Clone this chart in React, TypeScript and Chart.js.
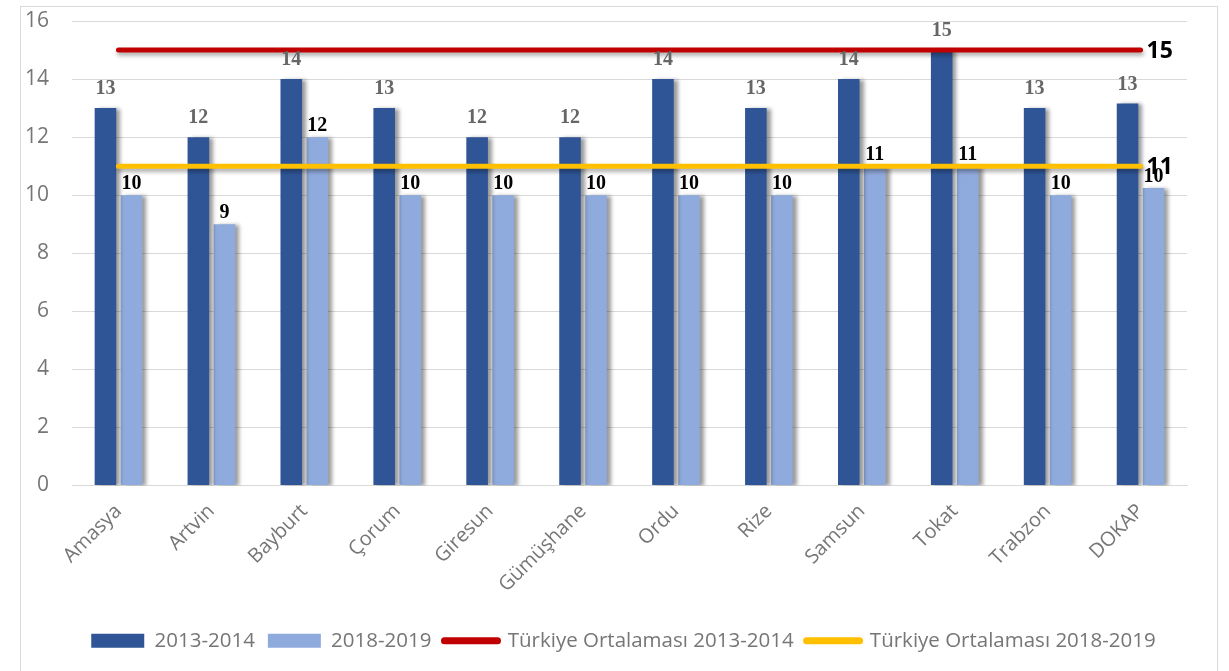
import React, { useEffect, useRef } from "react";
import { Chart, registerables } from "chart.js";

Chart.register(...registerables);

const categories = ["Amasya", "Artvin", "Bayburt", "Çorum", "Giresun", "Gümüşhane", "Ordu", "Rize", "Samsun", "Tokat", "Trabzon", "DOKAP"];
const values2013 = [13, 12, 14, 13, 12, 12, 14, 13, 14, 15, 13, 13.16];
const values2018 = [10, 9, 12, 10, 10, 10, 10, 10, 11, 11, 10, 10.25];
const turkiye2013 = [15, 15, 15, 15, 15, 15, 15, 15, 15, 15, 15, 15];
const turkiye2018 = [11, 11, 11, 11, 11, 11, 11, 11, 11, 11, 11, 11];
const seriesLabels = ["2013-2014", "2018-2019", "Türkiye Ortalaması 2013-2014", "Türkiye Ortalaması 2018-2019"];

const SANS = "'Open Sans', 'Liberation Sans', sans-serif";
const GRAY = "#767676";

const shadowPlugin = {
  id: "shadowPlugin",
  beforeDatasetDraw(chart: any, args: any) {
    const ctx = chart.ctx;
    ctx.save();
    const type = chart.data.datasets[args.index].type;
    if (type === "line") {
      ctx.shadowColor = "rgba(0,0,0,0.35)";
      ctx.shadowBlur = 4;
      ctx.shadowOffsetX = 1;
      ctx.shadowOffsetY = 3;
    } else {
      ctx.shadowColor = "rgba(0,0,0,0.4)";
      ctx.shadowBlur = 4;
      ctx.shadowOffsetX = 4;
      ctx.shadowOffsetY = 1;
    }
  },
  afterDatasetDraw(chart: any) {
    chart.ctx.restore();
  },
};

// centre the legend on the whole card rather than on the padded area
const legendShiftPlugin = {
  id: "legendShiftPlugin",
  afterLayout(chart: any) {
    const l = chart.legend;
    if (l) {
      l.left += 20;
      l.right += 20;
    }
  },
};

const labelPlugin = {
  id: "labelPlugin",
  afterDatasetsDraw(chart: any) {
    const ctx = chart.ctx;
    ctx.save();
    chart.data.datasets.forEach((ds: any, di: number) => {
      const meta = chart.getDatasetMeta(di);
      if (ds.type === "bar") {
        ctx.font = "bold 20px 'Liberation Serif', 'Times New Roman', serif";
        ctx.fillStyle = di === 0 ? "#666666" : "#000000";
        ctx.textAlign = "center";
        ctx.textBaseline = "middle";
        meta.data.forEach((el: any, i: number) => {
          const v = ds.data[i];
          const off = di === 0 ? 19 : 11;
          ctx.fillText(String(Math.round(v)), el.x, el.y - off);
        });
      } else {
        const last = meta.data[meta.data.length - 1];
        ctx.font = "bold 23px " + SANS;
        ctx.fillStyle = "#000000";
        ctx.textAlign = "left";
        ctx.textBaseline = "middle";
        ctx.fillText(String(ds.data[ds.data.length - 1]), last.x + 6, last.y + 1);
      }
    });
    ctx.restore();
  },
};

export default function App() {
  const canvasRef = useRef<HTMLCanvasElement | null>(null);

  useEffect(() => {
    if (!canvasRef.current) return;
    const chart = new Chart(canvasRef.current, {
      type: "bar",
      data: {
        labels: categories,
        datasets: [
          {
            type: "bar",
            label: seriesLabels[0],
            data: values2013,
            backgroundColor: "#2F5597",
            borderWidth: 0,
            categoryPercentage: 0.56,
            barPercentage: 0.83,
            order: 2,
          },
          {
            type: "bar",
            label: seriesLabels[1],
            data: values2018,
            backgroundColor: "#8FAADC",
            borderWidth: 0,
            categoryPercentage: 0.56,
            barPercentage: 0.83,
            order: 2,
          },
          {
            type: "line",
            label: seriesLabels[2],
            data: turkiye2013,
            borderColor: "#C00000",
            backgroundColor: "#C00000",
            borderWidth: 5,
            borderCapStyle: "round",
            pointRadius: 0,
            order: 1,
          },
          {
            type: "line",
            label: seriesLabels[3],
            data: turkiye2018,
            borderColor: "#FFC000",
            backgroundColor: "#FFC000",
            borderWidth: 5,
            borderCapStyle: "round",
            pointRadius: 0,
            order: 1,
          },
        ] as any,
      },
      options: {
        responsive: false,
        maintainAspectRatio: false,
        animation: false,
        devicePixelRatio: 1,
        layout: { autoPadding: false, padding: { left: 20, right: 42, top: 21, bottom: 10 } },
        plugins: {
          tooltip: { enabled: false },
          legend: {
            position: "bottom",
            labels: {
              usePointStyle: true,
              pointStyleWidth: 53,
              boxHeight: 14,
              padding: 13,
              color: GRAY,
              font: { size: 20.5, family: SANS },
              generateLabels: (c: any) =>
                c.data.datasets.map((ds: any, i: number) => ({
                  text: ds.label,
                  fillStyle: ds.type === "line" ? ds.borderColor : ds.backgroundColor,
                  strokeStyle: ds.type === "line" ? ds.borderColor : ds.backgroundColor,
                  lineWidth: ds.type === "line" ? 7 : 0,
                  lineCap: "round",
                  pointStyle: ds.type === "line" ? "line" : "rect",
                  fontColor: GRAY,
                  hidden: false,
                  datasetIndex: i,
                })),
            },
          },
        },
        scales: {
          x: {
            grid: { display: false },
            border: { display: true, color: "#d9d9d9", width: 1 },
            ticks: {
              color: GRAY,
              font: { size: 20, family: SANS },
              minRotation: 45,
              maxRotation: 45,
              padding: 6,
            },
            afterFit: (s: any) => {
              s.height = 132;
              s.paddingLeft = 0;
              s.paddingRight = 0;
            },
          },
          y: {
            min: 0,
            max: 16,
            ticks: {
              stepSize: 2,
              color: GRAY,
              font: { size: 21, family: SANS },
              padding: 23,
            },
            grid: { color: "#d9d9d9", drawTicks: false, lineWidth: 1 },
            border: { display: false },
            afterFit: (s: any) => {
              s.width = 52;
              s.paddingTop = 0;
              s.paddingBottom = 0;
            },
          },
        },
      },
      plugins: [shadowPlugin, legendShiftPlugin, labelPlugin],
    });
    return () => chart.destroy();
  }, []);

  return (
    <div style={{ position: "fixed", left: 0, top: 0, width: 1229, height: 671, background: "#ffffff", overflow: "hidden" }}>
      <div
        style={{
          position: "absolute",
          left: 20,
          top: 6,
          width: 1198,
          height: 700,
          border: "1px solid #d9d9d9",
          boxSizing: "border-box",
        }}
      />
      <canvas
        ref={canvasRef}
        width={1229}
        height={671}
        style={{ position: "absolute", left: 0, top: 0, width: 1229, height: 671, display: "block" }}
      />
    </div>
  );
}
